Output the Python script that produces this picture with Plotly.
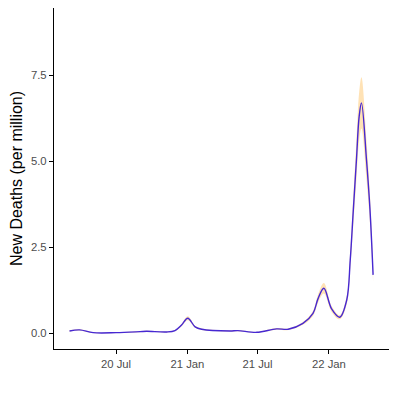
import plotly.graph_objects as go

# smoothed new deaths per million
dates = [
    "2020-03-03", "2020-03-29", "2020-05-03", "2020-07-01", "2020-09-01",
    "2020-09-18", "2020-11-09", "2020-11-30", "2020-12-17", "2021-01-02",
    "2021-01-21", "2021-02-07", "2021-04-21", "2021-05-11", "2021-06-29",
    "2021-08-19", "2021-09-18", "2021-10-26", "2021-11-21", "2021-12-04",
    "2021-12-19", "2022-01-08", "2022-01-29", "2022-02-16", "2022-02-25",
    "2022-03-05", "2022-03-13", "2022-03-20", "2022-03-26", "2022-04-08",
    "2022-04-17", "2022-04-25",
]
deaths = [
    0.06, 0.09, 0.01, 0.01, 0.04,
    0.05, 0.03, 0.07, 0.23, 0.43,
    0.18, 0.11, 0.06, 0.07, 0.02,
    0.12, 0.11, 0.28, 0.57, 1.00,
    1.30, 0.70, 0.46, 0.96, 2.12,
    3.58, 5.03, 6.29, 6.69, 5.03,
    3.58, 1.69,
]
upper = [v * 1.11 + 0.01 for v in deaths]
lower = [v * 0.89 - 0.01 for v in deaths]

tick_vals = ["2020-07-01", "2021-01-01", "2021-07-01", "2022-01-01"]
tick_text = ["20 Jul", "21 Jan", "21 Jul", "22 Jan"]

fig = go.Figure()
fig.add_trace(go.Scatter(
    x=dates, y=upper, mode="lines", line=dict(width=0, shape="spline"),
    hoverinfo="skip", showlegend=False
))
fig.add_trace(go.Scatter(
    x=dates, y=lower, mode="lines", line=dict(width=0, shape="spline"),
    fill="tonexty", fillcolor="rgba(255,190,90,0.45)",
    hoverinfo="skip", showlegend=False
))
fig.add_trace(go.Scatter(
    x=dates, y=deaths, mode="lines",
    line=dict(color="rgb(70,40,210)", width=1.4, shape="spline"),
    showlegend=False
))

# page body adds an 8px offset, so margins are shifted to compensate
fig.update_layout(
    width=397, height=397,
    margin=dict(l=46, r=16, t=0, b=56),
    plot_bgcolor="white", paper_bgcolor="white",
    font=dict(family="Liberation Sans, Arial, sans-serif"),
)
fig.update_xaxes(
    range=["2020-01-23", "2022-06-05"],
    tickvals=tick_vals, ticktext=tick_text,
    showgrid=False, zeroline=False, automargin=False,
    showline=True, linecolor="black", linewidth=1.2,
    ticks="outside", ticklen=4, tickcolor="black",
    tickfont=dict(size=11.3, color="#4d4d4d"),
)
fig.update_yaxes(
    range=[-0.465, 9.45],
    tickvals=[0, 2.5, 5, 7.5], ticktext=["0.0", "2.5", "5.0", "7.5"],
    showgrid=False, zeroline=False, automargin=False,
    showline=True, linecolor="black", linewidth=1.2,
    ticks="outside", ticklen=4, tickcolor="black",
    tickfont=dict(size=11.3, color="#4d4d4d"),
    title=dict(text="New Deaths (per million)", font=dict(size=16, color="black"), standoff=8),
)

fig.write_html("out.html")
